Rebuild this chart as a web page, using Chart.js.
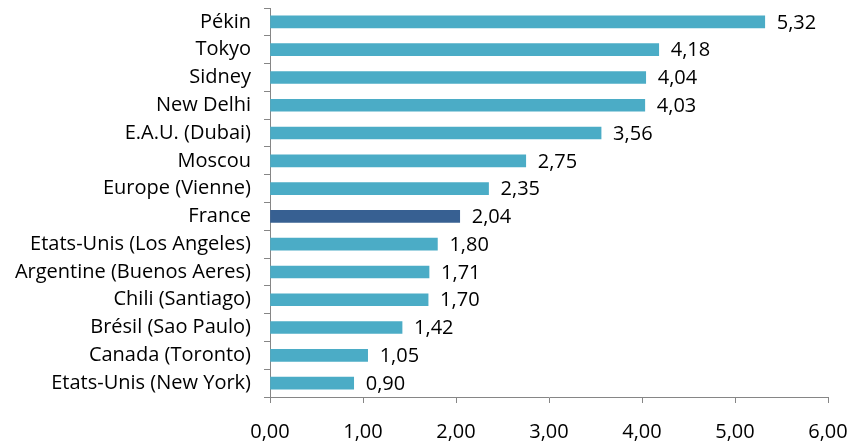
<!DOCTYPE html>
<html>
<head>
<meta charset="utf-8">
<script src="https://cdn.jsdelivr.net/npm/chart.js@4.4.1/dist/chart.umd.min.js"></script>
<style>
  html, body { margin: 0; padding: 0; background: #ffffff; }
  #wrap { width: 863px; height: 446px; position: relative; }
</style>
</head>
<body>
<div id="wrap"><canvas id="chart" width="863" height="446"></canvas></div>
<script>
// Cities / regions, top to bottom
const categories = [
  'Pékin', 'Tokyo', 'Sidney', 'New Delhi', 'E.A.U. (Dubai)', 'Moscou',
  'Europe (Vienne)', 'France', 'Etats-Unis (Los Angeles)',
  'Argentine (Buenos Aeres)', 'Chili (Santiago)', 'Brésil (Sao Paulo)',
  'Canada (Toronto)', 'Etats-Unis (New York)'
];
const values = [5.32, 4.18, 4.04, 4.03, 3.56, 2.75, 2.35, 2.04, 1.80, 1.71, 1.70, 1.42, 1.05, 0.90];
const xTicks = [0, 1, 2, 3, 4, 5, 6];
const highlighted = 'France';

const BAR = '#4BACC6';
const BAR_HL = '#376092';
const AXIS = '#868686';
const FONT = 'Open Sans, Liberation Sans, sans-serif';
const FONT_SIZE = 20;

const fmt = v => v.toFixed(2).replace('.', ',');

// Draws the value next to the end of each bar
const valueLabels = {
  id: 'valueLabels',
  afterDatasetsDraw(chart) {
    const ctx = chart.ctx;
    const meta = chart.getDatasetMeta(0);
    ctx.save();
    ctx.font = FONT_SIZE + 'px ' + FONT;
    ctx.fillStyle = '#000000';
    ctx.textAlign = 'left';
    ctx.textBaseline = 'middle';
    meta.data.forEach((bar, i) => {
      ctx.fillText(fmt(values[i]), bar.x + 12, bar.y + 1);
    });
    ctx.restore();
  }
};

new Chart(document.getElementById('chart'), {
  type: 'bar',
  data: {
    labels: categories,
    datasets: [{
      data: values,
      backgroundColor: categories.map(c => c === highlighted ? BAR_HL : BAR),
      borderWidth: 0,
      barThickness: 12
    }]
  },
  options: {
    indexAxis: 'y',
    responsive: false,
    animation: false,
    layout: { padding: { top: 8, right: 35, left: 0, bottom: 0 } },
    plugins: { legend: { display: false }, tooltip: { enabled: false } },
    scales: {
      x: {
        min: 0,
        max: 6,
        afterBuildTicks: s => { s.ticks = xTicks.map(v => ({ value: v })); },
        afterFit: s => { s.height = 49; s.paddingLeft = 0; s.paddingRight = 0; },
        border: { display: true, color: AXIS, width: 1 },
        grid: { drawOnChartArea: false, drawTicks: true, tickLength: 6, color: AXIS },
        ticks: {
          padding: 17,
          color: '#000000',
          font: { family: FONT, size: FONT_SIZE },
          callback: v => fmt(v),
          maxRotation: 0
        }
      },
      y: {
        afterFit: s => { s.width = 270; s.paddingTop = 0; s.paddingBottom = 0; },
        border: { display: true, color: AXIS, width: 1 },
        grid: { drawOnChartArea: false, drawTicks: true, tickLength: 6, color: AXIS, offset: true },
        ticks: {
          padding: 13,
          color: '#000000',
          font: { family: FONT, size: FONT_SIZE },
          autoSkip: false
        }
      }
    }
  },
  plugins: [valueLabels]
});
</script>
</body>
</html>
